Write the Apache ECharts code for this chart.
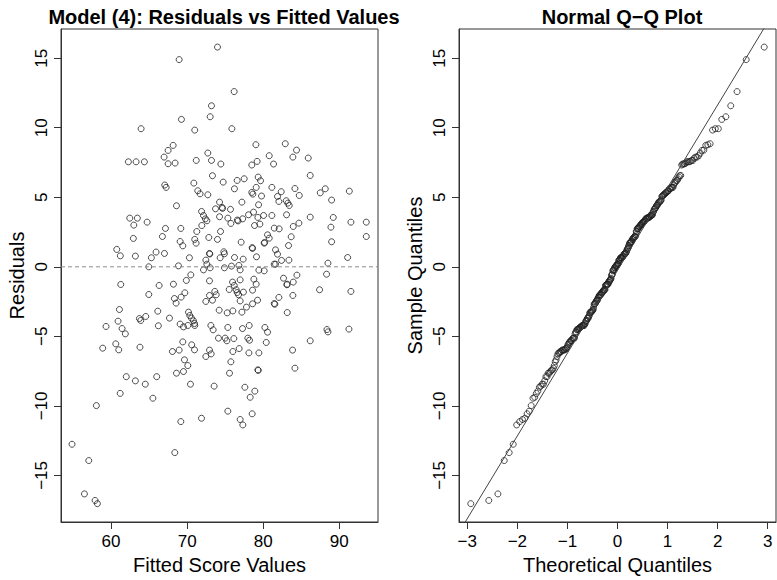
<!DOCTYPE html>
<html><head><meta charset="utf-8">
<script src="https://cdn.jsdelivr.net/npm/echarts@6/dist/echarts.min.js"></script>
<style>html,body{margin:0;padding:0;background:#fff}#c{width:777px;height:580px}</style>
</head><body><div id="c"></div>
<script>
// ---- data ----
const fittedValues = [
63.95,62.28,63.29,64.38,
73.99,68.95,76.18,73.2,73.03,69.25,71.0,75.88,79.04,68.16,67.5,66.97,67.5,68.42,71.2,72.72,73.2,74.43,78.5,79.2,80.79,73.33,70.88,67.06,67.24,74.74,76.58,77.5,79.34,79.65,79.08,76.22,78.5,78.64,79.78,81.14,71.4,71.7,72.72,
82.9,84.38,83.9,85.92,81.36,86.18,82.37,81.88,84.17,84.74,87.5,88.16,91.32,
62.46,63.46,62.99,64.74,62.93,66.75,60.75,61.22,63.2,65.3,65.92,64.96,61.28,66.32,64.96,61.1,66.14,60.92,63.73,63.9,64.56,59.34,61.45,61.88,66.22,60.62,61.01,58.9,63.8,
62.0,63.2,64.5,66.0,61.2,65.5,58.07,54.87,57.07,56.5,57.9,58.2,
68.6,74.26,77.2,73.73,74.6,74.65,75.7,71.9,72.15,72.4,72.6,74.26,75.35,76.6,76.7,77.3,78.07,78.73,79.39,79.3,75.75,71.93,71.27,74.39,67.15,69.17,69.08,69.43,71.0,71.18,72.85,73.99,77.1,78.6,78.55,78.86,79.56,80.05,81.14,80.57,80.79,80.13,80.18,81.45,67.02,70.3,72.94,72.98,74.82,74.9,74.34,76.23,77.37,79.12,72.46,72.59,73.03,68.86,72.15,74.9,75.83,76.8,76.97,79.43,80.13,81.45,70.48,69.9,72.94,68.2,75.97,76.19,76.97,78.77,79.08,75.53,76.45,76.58,76.76,77.4,76.97,78.6,81.45,68.33,68.55,69.21,69.7,72.46,73.33,72.94,73.64,73.82,78.6,79.26,77.8,74.21,75.27,76.01,77.2,70.18,70.35,70.57,70.83,70.97,67.68,69.08,69.52,70.09,71.0,73.12,73.42,75.35,77.28,78.16,80.22,80.57,74.12,75.0,75.22,76.14,77.98,78.2,80.4,69.43,68.07,68.95,70.6,70.97,72.94,76.01,76.84,78.12,79.43,
72.46,73.16,69.65,70.09,68.6,69.52,75.75,75.57,79.3,79.35,70.44,73.55,77.59,78.9,78.29,75.35,78.55,71.89,69.17,76.97,77.32,68.38,
83.03,83.24,83.42,82.06,88.99,83.07,86.18,89.21,91.53,93.55,93.55,82.1,83.95,84.69,88.9,83.68,88.99,83.33,81.62,81.88,82.41,83.38,81.62,91.1,88.51,88.33,84.43,82.67,83.11,83.15,83.95,87.41,91.53,82.06,83.9,81.53,83.16,88.38,88.51,91.27,86.18,83.86,
84.17
];
const residuals = [
9.93,7.55,7.55,7.55,
15.8,14.9,12.6,11.58,10.79,10.6,9.83,9.93,8.78,8.73,8.37,7.89,7.41,7.46,7.65,8.18,7.65,7.39,7.32,7.58,7.99,6.55,6.02,5.88,5.71,6.09,6.21,6.33,6.45,6.19,5.71,5.61,5.35,5.23,5.09,5.71,5.47,5.25,5.18,
8.85,8.39,7.89,7.82,7.39,6.57,5.4,5.06,5.63,5.13,5.32,5.61,5.44,
3.5,3.5,3.0,3.21,2.04,2.18,1.25,0.79,0.77,0.65,1.06,0.0,-1.27,-1.34,-1.99,-3.07,-3.19,-3.91,-3.72,-3.86,-3.57,-4.29,-4.44,-4.82,-4.24,-5.54,-5.97,-5.85,-5.78,
-7.9,-8.2,-8.44,-7.9,-9.1,-9.45,-9.98,-12.76,-13.93,-16.33,-16.8,-17.03,
4.39,4.65,4.65,4.17,4.27,4.2,4.13,3.98,3.69,3.45,3.31,3.6,3.5,3.36,3.3,3.45,3.74,3.93,4.46,3.55,3.12,2.97,2.54,2.54,2.76,2.76,1.82,1.51,1.97,1.7,2.11,1.97,1.77,1.32,1.38,2.97,3.07,3.69,3.69,2.3,2.06,1.7,1.75,2.78,0.96,0.65,0.96,0.92,1.08,0.94,0.65,0.67,0.55,0.72,0.48,0.19,-0.07,0.07,-0.22,-0.07,0.05,0.1,-0.22,-0.24,-0.29,0.19,-0.58,-0.98,-1.01,-1.25,-1.1,-1.34,-0.94,-0.89,-1.25,-1.63,-1.65,-1.85,-2.01,-1.82,-2.45,-1.68,-2.64,-2.28,-2.61,-2.18,-1.87,-2.49,-2.4,-2.06,-1.77,-2.01,-2.66,-2.4,-2.9,-3.12,-3.31,-3.17,-3.26,-3.26,-3.5,-3.69,-3.88,-4.08,-3.69,-4.12,-4.32,-4.22,-4.22,-4.22,-4.53,-4.36,-4.44,-4.22,-4.36,-4.7,-5.13,-5.13,-5.32,-5.16,-5.13,-5.28,-5.44,-5.4,-6.09,-5.99,-5.61,-5.97,-5.99,-6.09,-5.88,-6.19,-6.19,
-6.45,-6.26,-6.69,-7.1,-7.65,-7.53,-6.83,-7.65,-7.41,-7.45,-8.44,-8.58,-8.66,-8.94,-9.38,-10.38,-10.57,-10.89,-11.13,-10.98,-11.37,-13.36,
4.75,4.58,4.41,4.7,4.8,3.74,3.57,3.55,3.21,3.21,2.18,2.73,2.9,3.14,2.85,2.16,1.8,1.53,1.22,0.91,0.46,0.48,0.19,0.67,0.26,-0.53,-0.6,-0.82,-1.29,-1.25,-1.1,-1.65,-1.77,-2.2,-2.06,-2.69,-3.29,-4.51,-4.68,-4.48,-5.32,-5.99,
-7.29
];
const xTicksLeft = [60, 70, 80, 90];
const yTicks = [-15, -10, -5, 0, 5, 10, 15];
const xTicksRight = [-3, -2, -1, 0, 1, 2, 3];
const qqLineIntercept = -0.26;
const qqLineSlope = 5.95;
const titles = ['Model (4): Residuals vs Fitted Values', 'Normal Q\u2212Q Plot'];
const axisNames = ['Fitted Score Values', 'Residuals', 'Theoretical Quantiles', 'Sample Quantiles'];

// ---- derived: normal quantiles for the Q-Q plot ----
function qnorm(p){
  const a=[-3.969683028665376e+01,2.209460984245205e+02,-2.759285104469687e+02,1.383577518672690e+02,-3.066479806614716e+01,2.506628277459239e+00];
  const b=[-5.447609879822406e+01,1.615858368580409e+02,-1.556989798598866e+02,6.680131188771972e+01,-1.328068155288572e+01];
  const c=[-7.784894002430293e-03,-3.223964580411365e-01,-2.400758277161838e+00,-2.549732539343734e+00,4.374664141464968e+00,2.938163982698783e+00];
  const d=[7.784695709041462e-03,3.224671290700398e-01,2.445134137142996e+00,3.754408661907416e+00];
  const pl=0.02425, ph=1-pl; let q,r;
  if(p<pl){q=Math.sqrt(-2*Math.log(p));return (((((c[0]*q+c[1])*q+c[2])*q+c[3])*q+c[4])*q+c[5])/((((d[0]*q+d[1])*q+d[2])*q+d[3])*q+1);}
  if(p>ph){q=Math.sqrt(-2*Math.log(1-p));return -(((((c[0]*q+c[1])*q+c[2])*q+c[3])*q+c[4])*q+c[5])/((((d[0]*q+d[1])*q+d[2])*q+d[3])*q+1);}
  q=p-0.5;r=q*q;return (((((a[0]*r+a[1])*r+a[2])*r+a[3])*r+a[4])*r+a[5])*q/(((((b[0]*r+b[1])*r+b[2])*r+b[3])*r+b[4])*r+1);
}
const sorted = residuals.slice().sort((u,v)=>u-v);
const n = sorted.length;
const qqData = sorted.map((v,i)=>[qnorm((i+0.5)/n), v]);

const FONT = '"Liberation Sans", Arial, Helvetica, sans-serif';
const fmt = v => (v < 0 ? '\u2212' + Math.abs(v) : String(v));
const LEFT = {xmin: 53.42, xmax: 95.09};
const RIGHT = {xmin: -3.165, xmax: 3.165};
const YR = {min: -18.35, max: 17.1};

function xAxisDef(idx, range, ticks, name){
  return {
    gridIndex: idx, type: 'value', min: range.xmin, max: range.xmax,
    name: name, nameLocation: 'middle', nameGap: 33,
    nameTextStyle: {fontSize: 20, color: '#000', fontFamily: FONT},
    axisLine: {show: true, onZero: false, lineStyle: {color: '#333', width: 1}},
    axisTick: {show: true, length: 7, customValues: ticks, lineStyle: {color: '#333', width: 1}},
    axisLabel: {show: true, customValues: ticks, formatter: fmt, fontSize: 17, color: '#000', fontFamily: FONT, margin: 11},
    splitLine: {show: false}
  };
}
function yAxisDef(idx, name){
  return {
    gridIndex: idx, type: 'value', min: YR.min, max: YR.max,
    name: name, nameLocation: 'middle', nameGap: 34, nameRotate: 90,
    nameTextStyle: {fontSize: 20, color: '#000', fontFamily: FONT},
    axisLine: {show: true, onZero: false, lineStyle: {color: '#333', width: 1}},
    axisTick: {show: true, length: 7, customValues: yTicks, lineStyle: {color: '#333', width: 1}},
    axisLabel: {show: true, customValues: yTicks, formatter: fmt, rotate: 90, fontSize: 17, color: '#000', fontFamily: FONT, margin: 11},
    splitLine: {show: false}
  };
}

const pointStyle = {color: 'rgba(0,0,0,0)', borderColor: '#222', borderWidth: 1};

const chart = echarts.init(document.getElementById('c'), null, {renderer: 'svg'});
chart.setOption({
  animation: false,
  backgroundColor: '#fff',
  title: [
    {text: titles[0], left: 219, top: 2, textAlign: 'center', textStyle: {fontSize: 20, fontWeight: 'bold', color: '#000', fontFamily: FONT}},
    {text: titles[1], left: 617, top: 2, textAlign: 'center', textStyle: {fontSize: 20, fontWeight: 'bold', color: '#000', fontFamily: FONT}}
  ],
  grid: [
    {left: 61, top: 29, width: 317, height: 493, show: true, borderColor: '#333', borderWidth: 1, backgroundColor: 'transparent'},
    {left: 459, top: 29, width: 317, height: 493, show: true, borderColor: '#333', borderWidth: 1, backgroundColor: 'transparent'}
  ],
  xAxis: [xAxisDef(0, LEFT, xTicksLeft, axisNames[0]), xAxisDef(1, RIGHT, xTicksRight, axisNames[2])],
  yAxis: [yAxisDef(0, axisNames[1]), yAxisDef(1, axisNames[3])],
  series: [
    {type: 'line', xAxisIndex: 0, yAxisIndex: 0, data: [[LEFT.xmin, 0], [LEFT.xmax, 0]], symbol: 'none', silent: true,
     lineStyle: {color: '#8c8c8c', width: 1, type: [4, 3]}},
    {type: 'scatter', xAxisIndex: 0, yAxisIndex: 0, symbol: 'circle', symbolSize: 6, silent: true,
     data: fittedValues.map((x, i) => [x, residuals[i]]), itemStyle: pointStyle},
    {type: 'line', xAxisIndex: 1, yAxisIndex: 1, symbol: 'none', silent: true, clip: true,
     data: [RIGHT.xmin - 0.2, RIGHT.xmax + 0.2].map(x => [x, qqLineIntercept + qqLineSlope * x]),
     lineStyle: {color: '#444', width: 1}},
    {type: 'scatter', xAxisIndex: 1, yAxisIndex: 1, symbol: 'circle', symbolSize: 6, silent: true,
     data: qqData, itemStyle: pointStyle}
  ]
});
</script></body></html>
